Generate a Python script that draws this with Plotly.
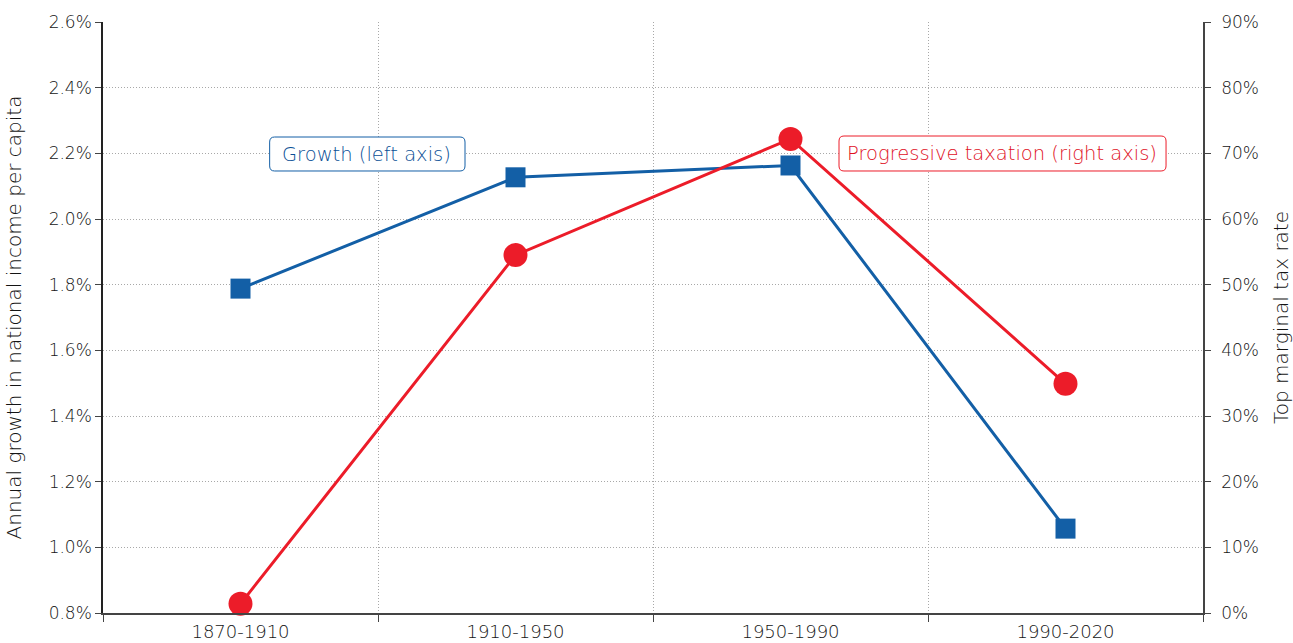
import plotly.graph_objects as go

periods = ["1870-1910", "1910-1950", "1950-1990", "1990-2020"]
growth = [0.01788, 0.02127, 0.02163, 0.01057]   # left axis, share per year
top_tax = [0.014, 0.545, 0.722, 0.349]          # right axis, top marginal rate

left_ticks = [0.008, 0.010, 0.012, 0.014, 0.016, 0.018, 0.020, 0.022, 0.024, 0.026]
right_ticks = [0.0, 0.1, 0.2, 0.3, 0.4, 0.5, 0.6, 0.7, 0.8, 0.9]

BLUE = "#135fa6"
RED = "#ec1c29"
FONT = "DejaVu Sans"
WEIGHT = 300
TXT = "#141414"
GRID = "#a8a8a8"


def rounded_box(x0, x1, y0, y1, rx=0.0045, ry=0.0085):
    return (f"M {x0+rx},{y0} L {x1-rx},{y0} Q {x1},{y0} {x1},{y0+ry} "
            f"L {x1},{y1-ry} Q {x1},{y1} {x1-rx},{y1} L {x0+rx},{y1} "
            f"Q {x0},{y1} {x0},{y1-ry} L {x0},{y0+ry} Q {x0},{y0} {x0+rx},{y0} Z")


fig = go.Figure()
fig.add_trace(go.Scatter(
    x=periods, y=growth, mode="lines+markers", name="Growth (left axis)",
    line=dict(color=BLUE, width=3),
    marker=dict(symbol="square", size=20, color=BLUE),
    cliponaxis=False, yaxis="y",
))
fig.add_trace(go.Scatter(
    x=periods, y=top_tax, mode="lines+markers", name="Progressive taxation (right axis)",
    line=dict(color=RED, width=3),
    marker=dict(symbol="circle", size=24, color=RED),
    cliponaxis=False, yaxis="y2",
))

# label boxes with rounded corners
fig.add_shape(type="path", xref="paper", yref="paper",
              path=rounded_box(0.1515, 0.3291, 0.7479, 0.8054),
              line=dict(color=BLUE, width=1), fillcolor="white", layer="above")
fig.add_shape(type="path", xref="paper", yref="paper",
              path=rounded_box(0.6691, 0.9664, 0.7479, 0.8071),
              line=dict(color=RED, width=1), fillcolor="white", layer="above")

fig.add_annotation(
    x=0.2391, y=0.7766, xref="paper", yref="paper", text="Growth (left axis)", showarrow=False,
    xanchor="center", yanchor="middle",
    font=dict(family=FONT, size=19.5, color="#0a4f96", weight=WEIGHT),
)
fig.add_annotation(
    x=0.8173, y=0.7775, xref="paper", yref="paper", text="Progressive taxation (right axis)",
    showarrow=False, xanchor="center", yanchor="middle",
    font=dict(family=FONT, size=19.5, color="#e0101e", weight=WEIGHT),
)

fig.update_layout(
    width=1293, height=643,
    margin=dict(l=103, r=90, t=22, b=30),
    plot_bgcolor="white", paper_bgcolor="white",
    font=dict(family=FONT, size=17, color=TXT, weight=WEIGHT),
    showlegend=False,
    xaxis=dict(
        type="category", tickson="boundaries", ticks="outside", ticklen=7,
        tickcolor="#444", showline=True, linecolor="#444", linewidth=1.5,
        showgrid=True, gridcolor=GRID, griddash="1px,2px", gridwidth=1,
        range=[-0.5, 3.5], tickfont=dict(size=18, color=TXT, weight=WEIGHT),
        ticklabelstandoff=2, automargin=False,
    ),
    yaxis=dict(
        range=[0.008, 0.026], tickvals=left_ticks, tickformat=".1%",
        ticks="outside", ticklen=6, tickcolor="#444",
        showline=True, linecolor="#222", linewidth=1.5,
        showgrid=True, gridcolor=GRID, griddash="1px,2px", gridwidth=1,
        zeroline=False, automargin=False,
        tickfont=dict(size=17, color=TXT, weight=WEIGHT),
        title=dict(text="Annual growth in national income per capita",
                   font=dict(size=20, color=TXT, weight=WEIGHT), standoff=22),
    ),
    yaxis2=dict(
        range=[0.0, 0.9], tickvals=right_ticks, tickformat=".0%",
        overlaying="y", side="right",
        ticks="outside", ticklen=6, tickcolor="#444",
        showline=True, linecolor="#444", linewidth=1.5,
        showgrid=False, zeroline=False, automargin=False,
        tickfont=dict(size=17, color=TXT, weight=WEIGHT),
        ticklabelstandoff=7,
        title=dict(text="Top marginal tax rate",
                   font=dict(size=20, color=TXT, weight=WEIGHT), standoff=18),
    ),
)

fig.write_html("out.html")
